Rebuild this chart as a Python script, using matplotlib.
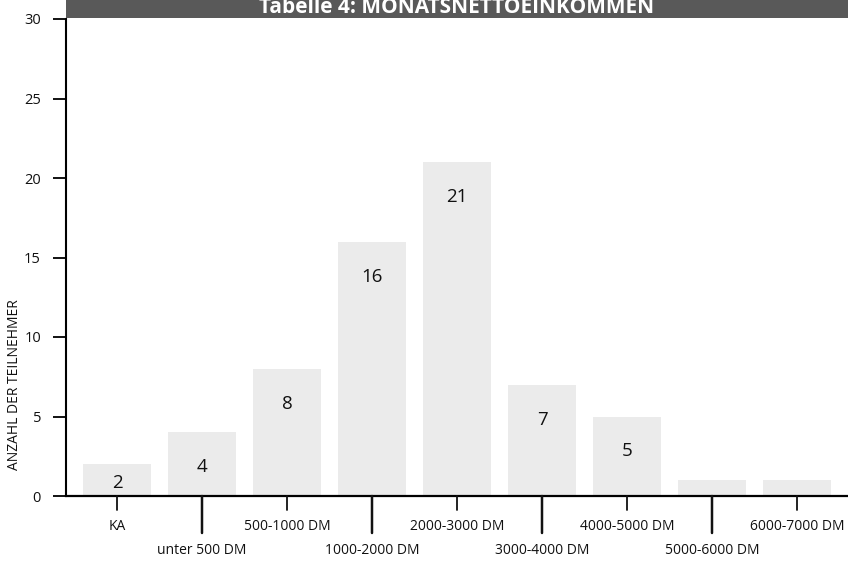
import matplotlib
matplotlib.use("Agg")
import matplotlib.pyplot as plt
from matplotlib.patches import Rectangle

categories = ["KA", "unter 500 DM", "500-1000 DM", "1000-2000 DM", "2000-3000 DM",
              "3000-4000 DM", "4000-5000 DM", "5000-6000 DM", "6000-7000 DM"]
counts = [2, 4, 8, 16, 21, 7, 5, 1, 1]
labelled = [True, True, True, True, True, True, True, False, False]
yticks = [0, 5, 10, 15, 20, 25, 30]
title = "Tabelle 4: MONATSNETTOEINKOMMEN"
ylabel = "ANZAHL DER TEILNEHMER"

plt.rcParams["font.family"] = ["Open Sans", "DejaVu Sans"]
INK = "#111111"
PX = 72 / 100  # points per pixel at 100 dpi

fig = plt.figure(figsize=(8.48, 5.62), dpi=100)
ax = fig.add_axes([66 / 848, 1 - 496 / 562, 1 - 66 / 848, (496 - 19) / 562])

x = list(range(len(categories)))
ax.bar(x, counts, width=0.8, color="#ebebeb", edgecolor="none", zorder=1)

# value labels sit inside the bars, a little below the top
for xi, v, show in zip(x, counts, labelled):
    if show:
        ypos = max(v - 2.2, v * 0.42)
        ax.text(xi, ypos, str(v), ha="center", va="center", fontsize=13.5, color=INK)

ax.set_xlim(-0.6, 8.6)
ax.set_ylim(0, 30)
ax.set_yticks(yticks)
ax.tick_params(axis="y", direction="out", length=13 * PX, width=1.4, pad=12 * PX,
               labelsize=10.5, colors=INK)

# alternate short and long ticks so the labels sit on two rows
ax.set_xticks(x)
ax.set_xticklabels([])
ax.tick_params(axis="x", length=0)
for xi, name in enumerate(categories):
    long_tick = xi % 2 == 1
    tick_len = (37 if long_tick else 14) * PX
    ax.annotate("", xy=(xi, 0), xycoords="data",
                xytext=(0, -tick_len), textcoords="offset points",
                arrowprops=dict(arrowstyle="-", lw=1.8 if long_tick else 1.3, color=INK,
                                shrinkA=0, shrinkB=0), annotation_clip=False)
    ax.annotate(name, xy=(xi, 0), xycoords="data",
                xytext=(0, -(55 if long_tick else 31) * PX), textcoords="offset points",
                ha="center", va="center", fontsize=10, color=INK,
                annotation_clip=False)

for side in ("top", "right"):
    ax.spines[side].set_visible(False)
ax.spines["left"].set_linewidth(1.5)
ax.spines["bottom"].set_linewidth(1.6)

ax.set_ylabel(ylabel, fontsize=10, color=INK)
ax.yaxis.set_label_coords(-0.056, 0.233)

# dark title band above the plotting area
band = Rectangle((66 / 848, 1 - 18 / 562), 1 - 66 / 848, 18 / 562 + 0.01,
                 transform=fig.transFigure, facecolor="#595959", edgecolor="none", zorder=0)
fig.patches.append(band)
fig.text(457 / 848, 1 - 13 / 562, title, ha="center", va="baseline", color="white",
         fontsize=15, fontweight="bold")

fig.savefig("out.png", dpi=100)
